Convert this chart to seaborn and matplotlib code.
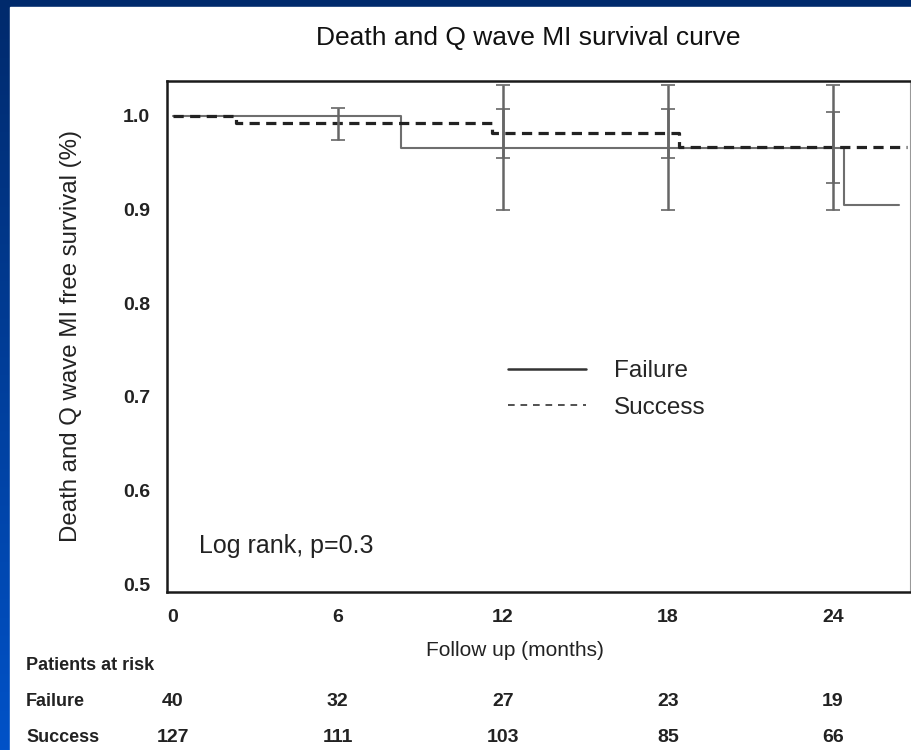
import numpy as np
import pandas as pd
import matplotlib
matplotlib.use('Agg')
import matplotlib.pyplot as plt
import matplotlib.transforms as mtransforms
from matplotlib.lines import Line2D
from matplotlib.patches import Rectangle
import seaborn as sns


# survival steps (months, survival fraction)
failure_months = [0, 8.3, 24.4, 26.4]
failure_surv = [1.0, 0.966, 0.905, 0.905]
success_months = [0, 2.3, 11.6, 18.4, 26.7]
success_surv = [1.0, 0.992, 0.981, 0.967, 0.967]

# error bars (centre, half width) at the follow up visits
failure_bar_months = [12, 18, 24]
failure_bar_centre = [0.966, 0.966, 0.966]
failure_bar_err = [0.067, 0.067, 0.067]
success_bar_months = [6, 12, 18, 24]
success_bar_centre = [0.991, 0.981, 0.981, 0.966]
success_bar_err = [0.017, 0.026, 0.026, 0.038]

# patients at risk table
risk_months = [0, 6, 12, 18, 24]
risk_failure = [40, 32, 27, 23, 19]
risk_success = [127, 111, 103, 85, 66]

x_ticks = [0, 6, 12, 18, 24]
y_ticks = [0.5, 0.6, 0.7, 0.8, 0.9, 1.0]


sns.set_style('white')
plt.rcParams['font.family'] = ['Liberation Sans', 'DejaVu Sans']

fig = plt.figure(figsize=(9.12, 7.5), dpi=100)

# blue slide background with white panel
bg = fig.add_axes([0, 0, 1, 1], zorder=-10)
grad = np.linspace(0, 1, 256).reshape(-1, 1)
cmap = matplotlib.colors.LinearSegmentedColormap.from_list('slide', ['#002a6c', '#0052c8'])
bg.imshow(grad, aspect='auto', cmap=cmap, extent=[0, 1, 0, 1], origin='upper')
bg.add_patch(Rectangle((10 / 912, 0), 1, 1 - 7 / 750, color='white', transform=bg.transAxes))
bg.set_xlim(0, 1)
bg.set_ylim(0, 1)
bg.axis('off')

ax = fig.add_axes([167 / 912, 1 - 592 / 750, (910 - 167) / 912, (592 - 81) / 750])
ax.set_facecolor('white')

df_fail = pd.DataFrame({'month': failure_months, 'surv': failure_surv})
df_succ = pd.DataFrame({'month': success_months, 'surv': success_surv})

sns.lineplot(data=df_fail, x='month', y='surv', ax=ax, color='#6e6e6e', lw=1.5,
             drawstyle='steps-post', estimator=None)
sns.lineplot(data=df_succ, x='month', y='surv', ax=ax, color='#222222', lw=2.3,
             dashes=False, linestyle=(0, (3.2, 2)), drawstyle='steps-post', estimator=None)

# error bars
ax.errorbar(failure_bar_months, failure_bar_centre, yerr=failure_bar_err, fmt='none',
            ecolor='#666666', elinewidth=1.8, capsize=5, capthick=1.2)
ax.errorbar(success_bar_months, success_bar_centre, yerr=success_bar_err, fmt='none',
            ecolor='#666666', elinewidth=1.8, capsize=5, capthick=1.2)

ax.set_xlim(-0.2, 26.8)
ax.set_ylim(0.4918, 1.037)
ax.set_xticks(x_ticks)
ax.set_yticks(y_ticks)
ax.set_yticklabels([f'{v:.1f}' for v in y_ticks])
ax.tick_params(axis='both', direction='out', length=4, width=1, color='#777777',
               labelsize=14, pad=8)
for lab in ax.get_xticklabels() + ax.get_yticklabels():
    lab.set_fontweight('bold')
    lab.set_color('#222222')

for side in ['left', 'bottom', 'top']:
    ax.spines[side].set_linewidth(1.8)
    ax.spines[side].set_color('#1a1a1a')
ax.spines['right'].set_linewidth(0.8)
ax.spines['right'].set_color('#999999')

ax.set_xlabel('')
ax.set_ylabel('Death and Q wave MI free survival (%)', fontsize=17.3, color='#222222', labelpad=30)
fig.text(515 / 912, 1 - 650 / 750, 'Follow up (months)', fontsize=15, ha='center', va='center',
         color='#222222')
fig.text(528 / 912, 1 - 38 / 750, 'Death and Q wave MI survival curve', fontsize=19,
         ha='center', va='center', color='#111111')

ax.text(199 / 912, 1 - 546 / 750, 'Log rank, p=0.3', fontsize=18, ha='left', va='center',
        color='#222222', transform=fig.transFigure)

# legend
handles = [Line2D([], [], color='#333333', lw=1.8),
           Line2D([], [], color='#333333', lw=1.2, linestyle=(0, (4, 3.5)))]
ax.legend(handles, ['Failure', 'Success'], loc='upper left', frameon=False,
          bbox_to_anchor=(508 / 912, 1 - 360 / 750), bbox_transform=fig.transFigure,
          fontsize=17.5, handlelength=3.2, handletextpad=1.15, labelspacing=0.6,
          borderpad=0, borderaxespad=0)

# patients at risk table
blend = mtransforms.blended_transform_factory(ax.transData, fig.transFigure)
fig.text(26 / 912, 1 - 665 / 750, 'Patients at risk', fontsize=13, fontweight='bold',
         ha='left', va='center', color='#222222')
fig.text(26 / 912, 1 - 702 / 750, 'Failure', fontsize=13, fontweight='bold',
         ha='left', va='center', color='#222222')
fig.text(26 / 912, 1 - 738 / 750, 'Success', fontsize=13, fontweight='bold',
         ha='left', va='center', color='#222222')
for m, nf, ns in zip(risk_months, risk_failure, risk_success):
    ax.text(m, 1 - 702 / 750, str(nf), transform=blend, fontsize=14, fontweight='bold',
            ha='center', va='center', color='#222222')
    ax.text(m, 1 - 738 / 750, str(ns), transform=blend, fontsize=14, fontweight='bold',
            ha='center', va='center', color='#222222')

fig.savefig('out.png', dpi=100)
